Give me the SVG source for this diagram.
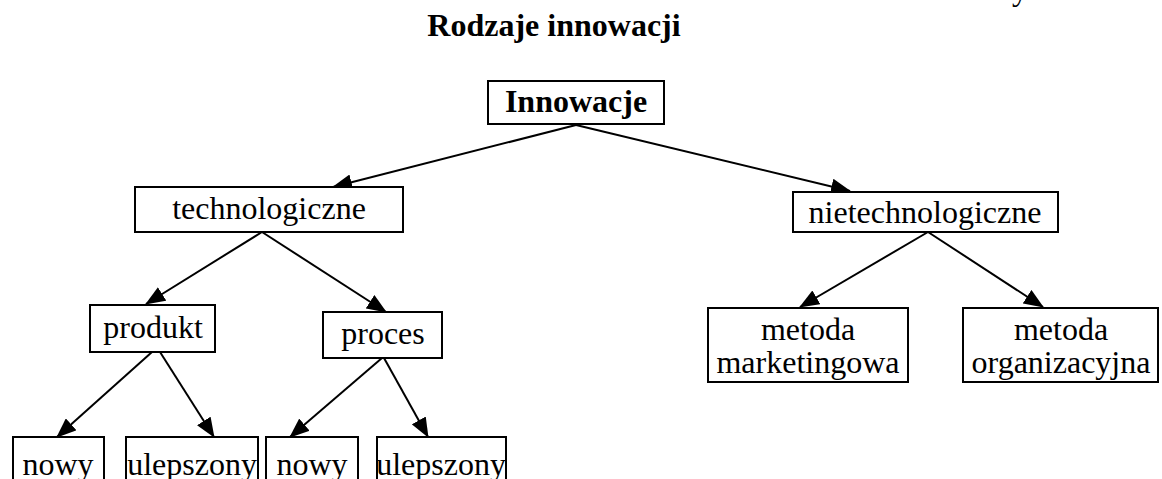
<svg xmlns="http://www.w3.org/2000/svg" width="1162" height="479" viewBox="0 0 1162 479">
  <style>
    text { font-family: "Liberation Serif", "Times New Roman", serif; font-size: 32px; fill: #000; text-anchor: middle; }
    .bold { font-weight: bold; }
    .box { fill: #fff; stroke: #000; stroke-width: 2; }
    .edge { stroke: #000; stroke-width: 2; fill: none; marker-end: url(#arrow); }
  </style>
  <defs>
    <marker id="arrow" markerUnits="userSpaceOnUse" markerWidth="20" markerHeight="16" viewBox="0 0 20 16" refX="19" refY="8" orient="auto">
      <path d="M0,0 L20,8 L0,16 Z" fill="#000"/>
    </marker>
  </defs>
  <rect width="1162" height="479" fill="#fff"/>

  <!-- clipped heading fragment at the top edge -->
  <text x="1020" y="0">y</text>

  <text class="bold" x="554" y="36">Rodzaje innowacji</text>

  <g id="connectors">
    <line class="edge" x1="576" y1="125" x2="333" y2="187"/>
    <line class="edge" x1="576" y1="125" x2="850" y2="191"/>
    <line class="edge" x1="262" y1="232" x2="146" y2="304"/>
    <line class="edge" x1="262" y1="232" x2="386" y2="312"/>
    <line class="edge" x1="928" y1="232" x2="800" y2="307"/>
    <line class="edge" x1="928" y1="232" x2="1043" y2="307"/>
    <line class="edge" x1="152" y1="352" x2="57" y2="437"/>
    <line class="edge" x1="160" y1="352" x2="214" y2="437"/>
    <line class="edge" x1="382" y1="358" x2="290" y2="437"/>
    <line class="edge" x1="384" y1="358" x2="428" y2="437"/>
  </g>

  <g id="innowacje">
    <rect class="box" x="488" y="81" width="176" height="43"/>
    <text class="bold" x="576" y="112">Innowacje</text>
  </g>
  <g id="technologiczne">
    <rect class="box" x="135" y="187" width="268" height="45"/>
    <text x="269" y="219">technologiczne</text>
  </g>
  <g id="nietechnologiczne">
    <rect class="box" x="793" y="192" width="265" height="40"/>
    <text x="925" y="223">nietechnologiczne</text>
  </g>
  <g id="produkt">
    <rect class="box" x="90" y="305" width="125" height="47"/>
    <text x="153" y="338">produkt</text>
  </g>
  <g id="proces">
    <rect class="box" x="323" y="312" width="119" height="46"/>
    <text x="383" y="344">proces</text>
  </g>
  <g id="metoda-marketingowa">
    <rect class="box" x="708" y="308" width="200" height="74"/>
    <text x="808" y="340">metoda</text>
    <text x="808" y="373">marketingowa</text>
  </g>
  <g id="metoda-organizacyjna">
    <rect class="box" x="963" y="308" width="195" height="74"/>
    <text x="1061" y="340">metoda</text>
    <text x="1061" y="373">organizacyjna</text>
  </g>
  <g id="produkt-nowy">
    <rect class="box" x="13" y="437" width="91" height="60"/>
    <text x="58" y="475">nowy</text>
  </g>
  <g id="produkt-ulepszony">
    <rect class="box" x="126" y="437" width="132" height="60"/>
    <text x="192" y="475">ulepszony</text>
  </g>
  <g id="proces-nowy">
    <rect class="box" x="266" y="437" width="92" height="60"/>
    <text x="312" y="475">nowy</text>
  </g>
  <g id="proces-ulepszony">
    <rect class="box" x="377" y="437" width="129" height="60"/>
    <text x="441" y="475">ulepszony</text>
  </g>
</svg>
